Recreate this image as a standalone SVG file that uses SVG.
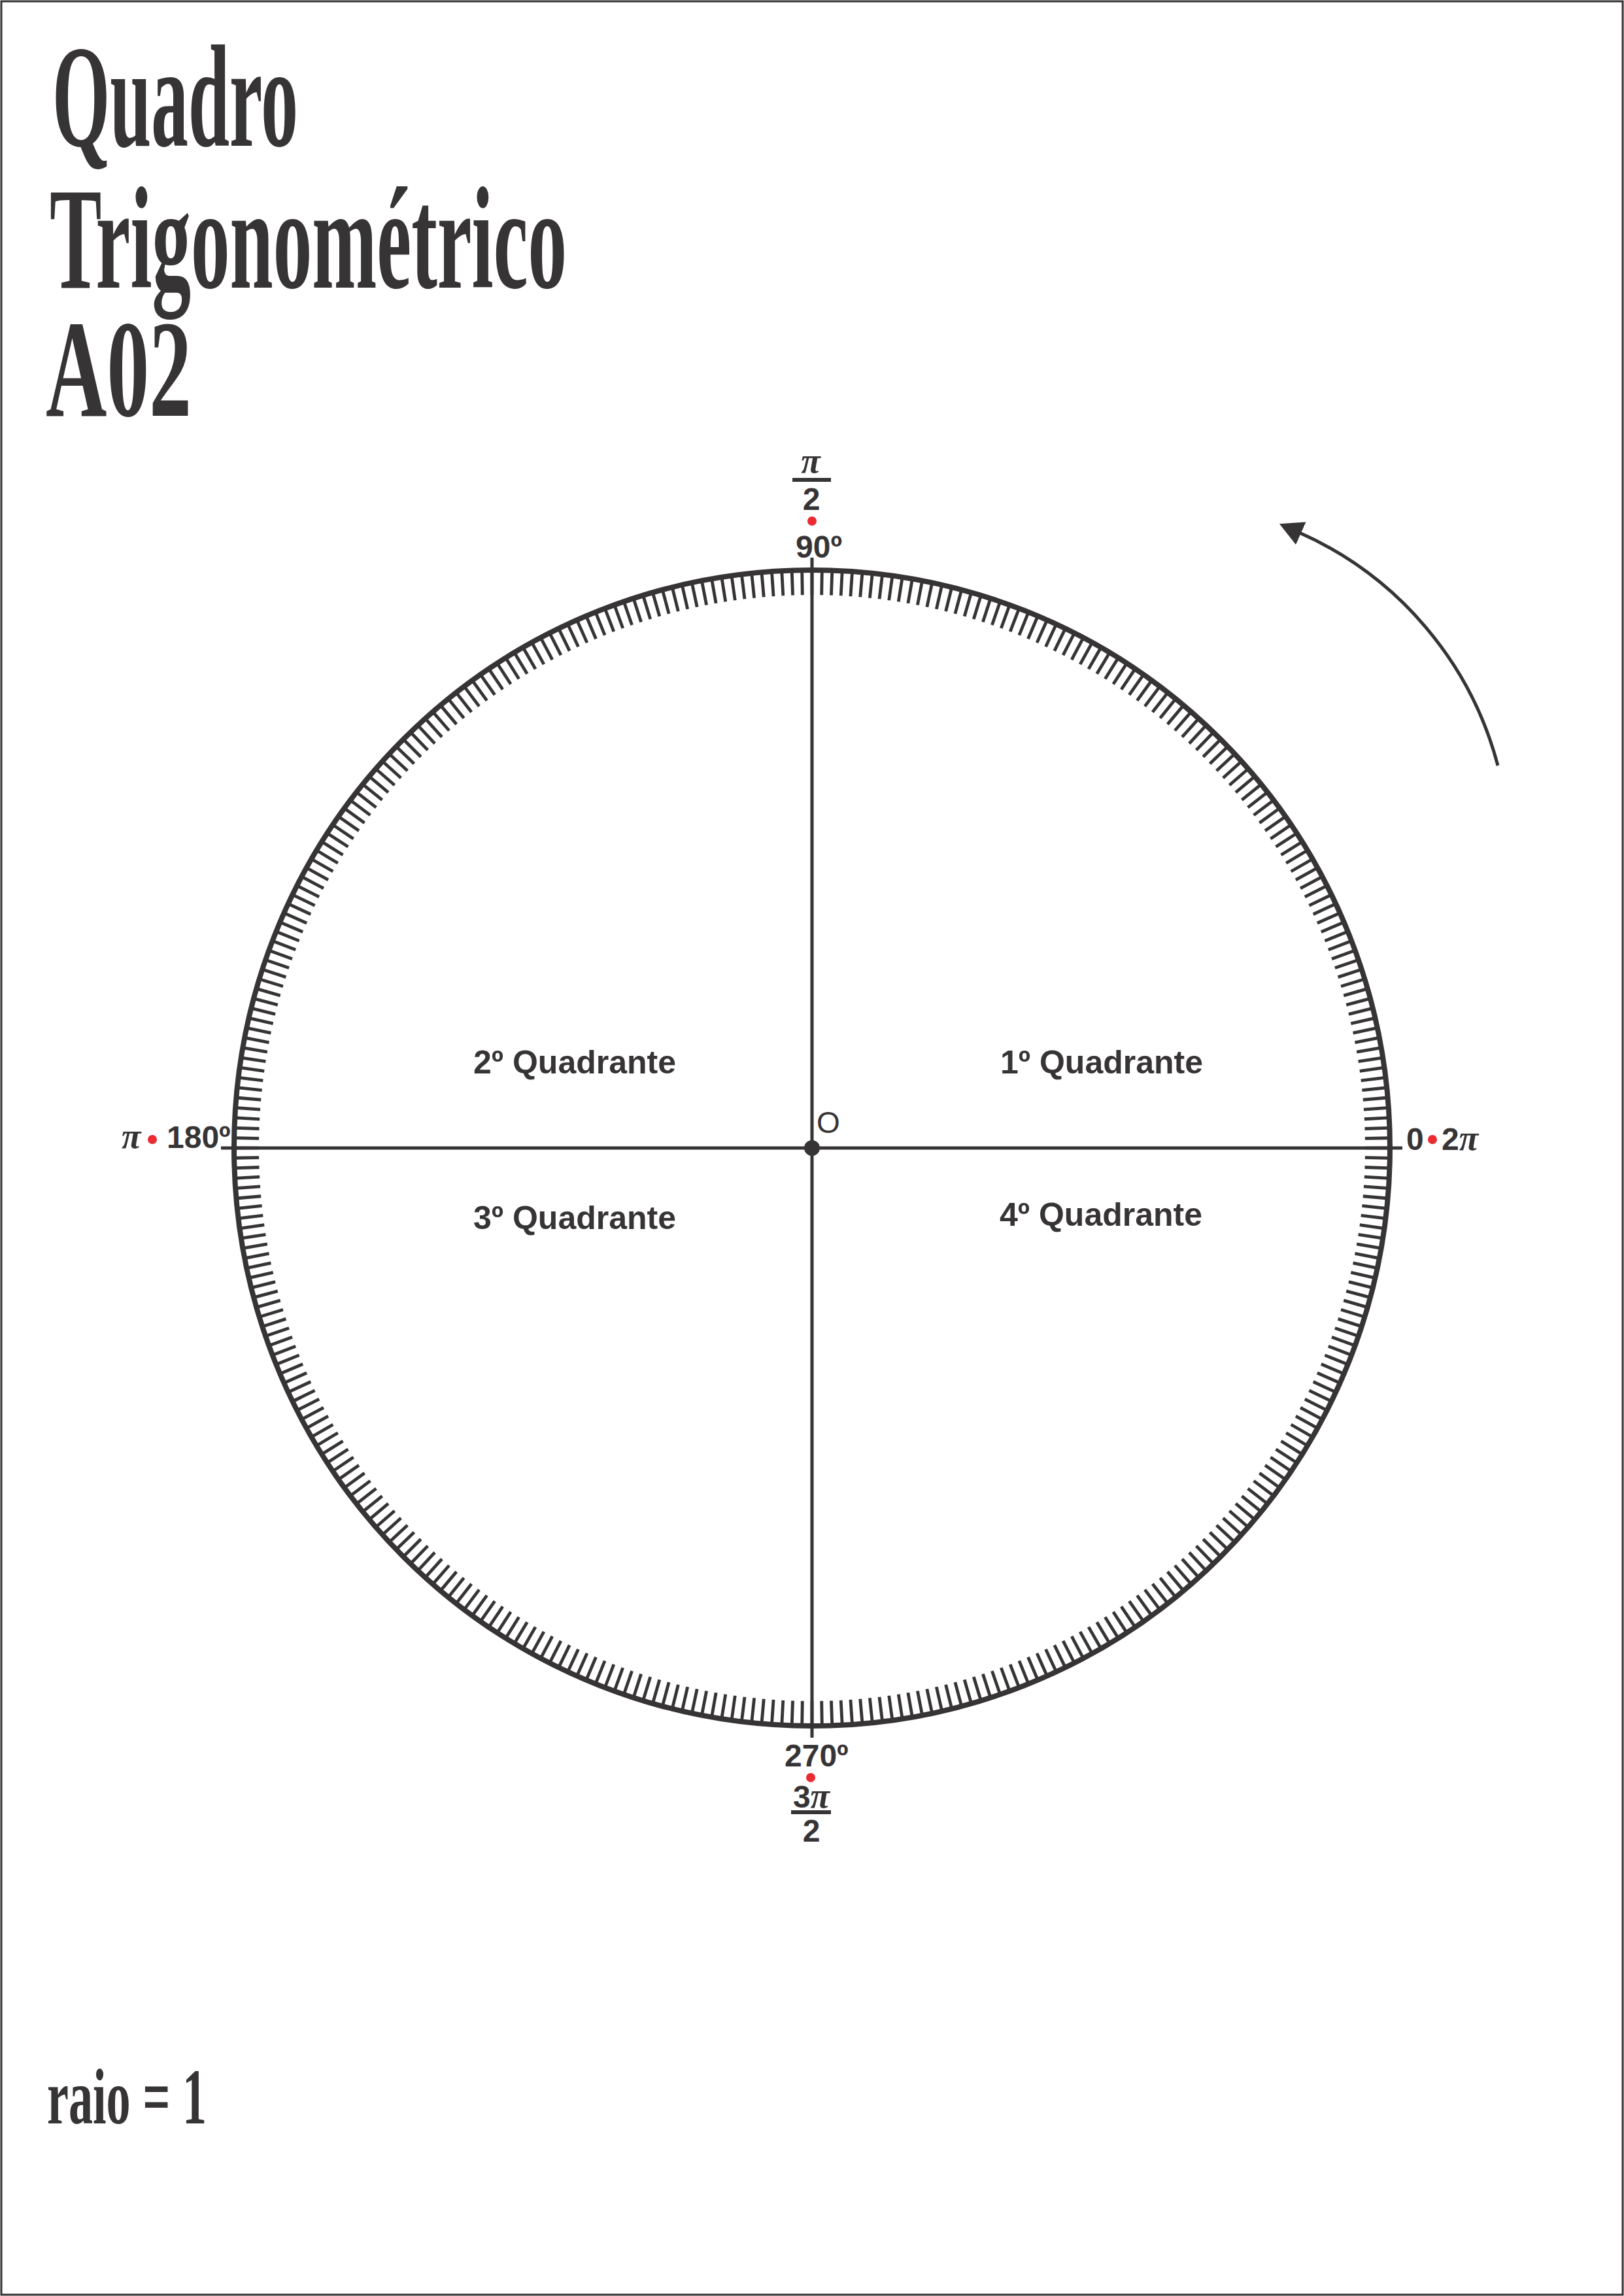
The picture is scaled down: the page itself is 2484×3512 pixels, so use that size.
<svg xmlns="http://www.w3.org/2000/svg" width="2484" height="3512" viewBox="0 0 2484 3512">
<style>
.ink{fill:#373435}
.title{font-family:"Liberation Serif","Times New Roman",serif;font-weight:bold;fill:#373435}
.lbl{font-family:"Liberation Sans",Arial,sans-serif;font-weight:bold;font-size:48px;fill:#373435}
.quad{font-family:"Liberation Sans",Arial,sans-serif;font-weight:bold;font-size:50px;fill:#373435}
.pi{font-family:"Liberation Serif","Times New Roman",serif;font-style:italic;font-weight:bold;fill:#373435}
.line{stroke:#373435;fill:none}
.dot{fill:#ec2a32}
</style>
<defs>
<marker id="ah" markerUnits="userSpaceOnUse" viewBox="0 0 36 38" markerWidth="36" markerHeight="38" refX="2" refY="19" orient="auto">
<path d="M0,0 L36,19 L0,38 z" fill="#373435"/>
</marker>
</defs>
<rect x="2" y="2" width="2480" height="3508" fill="#ffffff" stroke="#373435" stroke-width="3"/>

<g id="title">
<text class="title" x="80" y="223" font-size="222" textLength="376" lengthAdjust="spacingAndGlyphs">Quadro</text>
<text class="title" x="76" y="440" font-size="222" textLength="791" lengthAdjust="spacingAndGlyphs">Trigonométrico</text>
<text class="title" x="70" y="636" font-size="212" textLength="223" lengthAdjust="spacingAndGlyphs">A02</text>
</g>

<g id="circle">
<circle cx="1242" cy="1756" r="884" class="line" stroke-width="8"/>
<circle cx="1242" cy="1756" r="863.5" class="line" stroke-width="35" pathLength="360" stroke-dasharray="0.32 0.68" stroke-dashoffset="0.16"/>
</g>

<g id="axes">
<line x1="338" y1="1756" x2="2145" y2="1756" class="line" stroke-width="5"/>
<line x1="1242" y1="853" x2="1242" y2="2658" class="line" stroke-width="5"/>
</g>

<g id="origin">
<circle cx="1242" cy="1756" r="12" class="ink"/>
<text x="1249" y="1733" font-family="'Liberation Sans',Arial,sans-serif" font-size="46" fill="#373435">O</text>
</g>

<g id="label-90">
<text class="pi" x="1240" y="723" font-size="54" text-anchor="middle">π</text>
<rect x="1212" y="731" width="59" height="6" class="ink"/>
<text class="lbl" x="1241" y="780" text-anchor="middle">2</text>
<circle cx="1242" cy="797" r="7" class="dot"/>
<text class="lbl" x="1217" y="853">90º</text>
</g>

<g id="label-270">
<text class="lbl" x="1200" y="2702">270º</text>
<circle cx="1240" cy="2719" r="7" class="dot"/>
<text x="1241" y="2765" text-anchor="middle"><tspan class="lbl">3</tspan><tspan class="pi" font-size="54">π</tspan></text>
<rect x="1210" y="2769" width="61" height="6" class="ink"/>
<text class="lbl" x="1241" y="2817" text-anchor="middle">2</text>
</g>

<g id="label-180">
<text class="pi" x="186" y="1756" font-size="54">π</text>
<circle cx="233" cy="1743" r="7" class="dot"/>
<text class="lbl" x="255" y="1756">180º</text>
</g>

<g id="label-0">
<text class="lbl" x="2151" y="1759">0</text>
<circle cx="2191" cy="1743" r="7" class="dot"/>
<text x="2205" y="1759"><tspan class="lbl">2</tspan><tspan class="pi" font-size="54">π</tspan></text>
</g>

<g id="quadrants">
<text class="quad" x="1530" y="1642">1º Quadrante</text>
<text class="quad" x="724" y="1642">2º Quadrante</text>
<text class="quad" x="724" y="1880">3º Quadrante</text>
<text class="quad" x="1529" y="1875">4º Quadrante</text>
</g>

<g id="connectors">
<path d="M2291,1171 A540,540 0 0 0 1988,815" class="line" stroke-width="5" marker-end="url(#ah)"/>
</g>

<g id="radius-note">
<text class="title" x="72" y="3248" font-size="120" textLength="244" lengthAdjust="spacingAndGlyphs">raio = 1</text>
</g>
</svg>
